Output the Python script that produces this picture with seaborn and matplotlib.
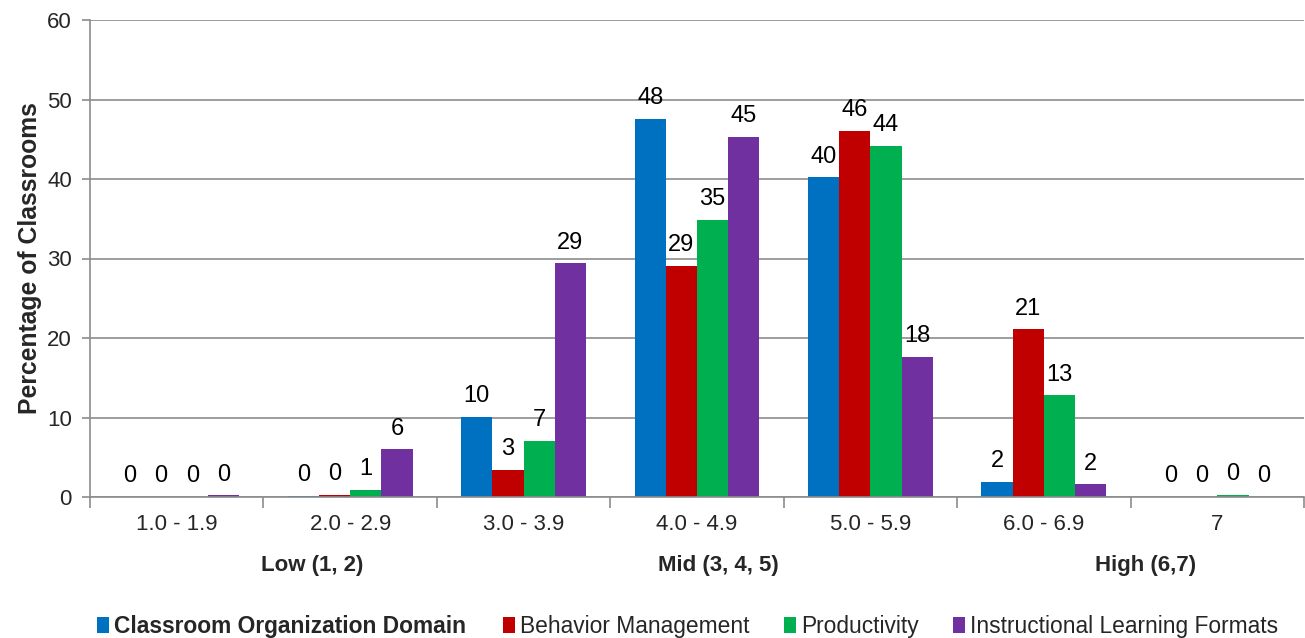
import matplotlib
matplotlib.use("Agg")
import matplotlib.pyplot as plt
import seaborn as sns
import pandas as pd
from matplotlib.patches import Patch
from matplotlib.ticker import FixedLocator

# Score ranges and the percentage of classrooms falling in each
ranges = ["1.0 - 1.9", "2.0 - 2.9", "3.0 - 3.9", "4.0 - 4.9", "5.0 - 5.9", "6.0 - 6.9", "7"]
series = ["Classroom Organization Domain", "Behavior Management", "Productivity",
          "Instructional Learning Formats"]
classroom_org = [0.0, 0.1, 10.1, 47.6, 40.2, 1.9, 0.0]
behavior_mgmt = [0.0, 0.3, 3.4, 29.1, 46.1, 21.1, 0.0]
productivity = [0.0, 0.9, 7.1, 34.9, 44.2, 12.8, 0.3]
instructional = [0.2, 6.0, 29.4, 45.3, 17.6, 1.6, 0.0]
bands = ["Low (1, 2)", "Mid (3, 4, 5)", "High (6,7)"]
colors = ["#0070C0", "#C00000", "#00B050", "#7030A0"]

values = [classroom_org, behavior_mgmt, productivity, instructional]
df = pd.DataFrame(
    [(r, s, v) for s, vals in zip(series, values) for r, v in zip(ranges, vals)],
    columns=["range", "series", "pct"],
)

sns.set_theme(style="white")
plt.rcParams["font.family"] = ["Liberation Sans", "DejaVu Sans"]
FS = 16

fig = plt.figure(figsize=(13.05, 6.38), dpi=100)
ax = fig.add_axes([90 / 1305, 1 - 497 / 638, 1 - 91 / 1305, (497 - 20) / 638])

sns.barplot(data=df, x="range", y="pct", hue="series", hue_order=series,
            palette=colors, order=ranges, width=0.72, saturation=1,
            legend=False, ax=ax, edgecolor="none", linewidth=0)

for cont in ax.containers:
    ax.bar_label(cont, labels=[f"{b.get_height():.0f}" for b in cont],
                 padding=7, fontsize=17, color="black")

ax.set_ylim(0, 60)
ax.set_xlim(-0.5, len(ranges) - 0.5)
ax.set_yticks(range(0, 61, 10))
ax.yaxis.grid(True, color="#8c8c8c", linewidth=1.2)
ax.set_axisbelow(True)

ax.set_xlabel("")
ax.set_ylabel("Percentage of Classrooms", fontsize=17.8, fontweight="bold", labelpad=4)
ax.tick_params(axis="y", labelsize=FS, length=6, width=1.2, color="#8c8c8c",
               left=True, direction="out", pad=7)
ax.tick_params(axis="x", which="major", labelsize=FS, length=0, pad=12)
ax.xaxis.set_minor_locator(FixedLocator([i - 0.5 for i in range(len(ranges) + 1)]))
ax.tick_params(axis="x", which="minor", length=8, width=1.2, color="#8c8c8c",
               bottom=True, direction="out")

for side in ["top", "right"]:
    ax.spines[side].set_visible(False)
for side in ["left", "bottom"]:
    ax.spines[side].set_color("#8c8c8c")
    ax.spines[side].set_linewidth(1.2)

# Band labels under the score ranges
for label, xpx in zip(bands, [312, 718, 1146]):
    fig.text(xpx / 1305, 1 - 565 / 638, label, ha="center", va="center",
             fontsize=FS, fontweight="bold")

# Legend entries along the bottom, one per series
for i, (name, c, xpx) in enumerate(zip(series, colors, [97, 503, 784, 953])):
    leg = fig.legend([Patch(facecolor=c, edgecolor="none")], [name],
                     loc="center left", bbox_to_anchor=(xpx / 1305, 1 - 626 / 638),
                     frameon=False, fontsize=16.4, handlelength=0.52,
                     handleheight=0.7, handletextpad=0.22, borderpad=0,
                     borderaxespad=0)
    if i == 0:
        leg.get_texts()[0].set_fontweight("bold")

fig.savefig("out.png", dpi=100)
